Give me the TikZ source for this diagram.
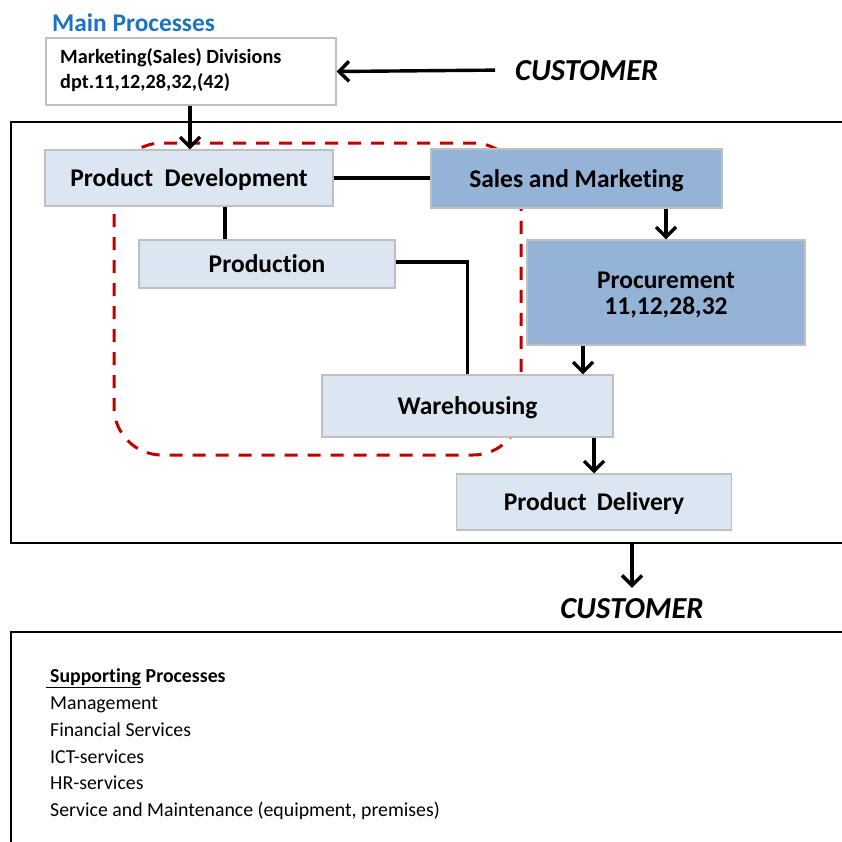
\documentclass[tikz,border=0pt]{standalone}
\usepackage{fontspec}
\setmainfont{Carlito}[Ligatures=NoCommon]
\usetikzlibrary{arrows.meta}
\definecolor{lightfill}{HTML}{DCE6F2}
\definecolor{darkfill}{HTML}{95B3D7}
\definecolor{boxline}{HTML}{BFBFBF}
\definecolor{dashred}{HTML}{C00000}
\definecolor{titleblue}{HTML}{1F72BE}
\begin{document}
\begin{tikzpicture}[x=1pt,y=-1pt,
  proc/.style={draw=boxline, line width=1.2pt, fill=lightfill, font=\fontsize{25.5}{27}\selectfont\bfseries, inner sep=0pt, text height=20pt, text depth=3pt},
  dproc/.style={proc, fill=darkfill},
  link/.style={line width=3.4pt, black},
  arr/.style={link, -{Straight Barb[length=10pt,width=20pt]}},
  frameline/.style={line width=2pt, black},
  supp/.style={anchor=base west, inner sep=0pt, font=\fontsize{19.8}{23}\selectfont},
  custtext/.style={inner sep=0pt, font=\fontsize{30.5}{32}\selectfont\bfseries\itshape},
]
\clip (0,0) rectangle (842,841);
% frames
\draw[frameline] (860,122) -- (11,122) -- (11,543) -- (860,543);
\draw[frameline] (860,632) -- (11,632) -- (11,860);
% red dashed group
\draw[dashred, line width=3pt, dash pattern=on 13pt off 10pt, rounded corners=48pt] (114,143) rectangle (521,455);
% title
\node[anchor=base west, inner sep=0pt, text=titleblue, font=\fontsize{25.4}{28}\selectfont\bfseries] (title) at (52,31.5) {Main Processes};
% marketing box
\node[draw=boxline, line width=1.2pt, fill=white, minimum width=290pt, minimum height=67pt, inner sep=0pt] (mkt) at (191,71.5) {};
\node[anchor=base west, inner sep=0pt, font=\fontsize{20.2}{25}\selectfont\bfseries] (mkt1) at (60,63.5) {Marketing(Sales) Divisions};
\node[anchor=base west, inner sep=0pt, font=\fontsize{20.2}{25}\selectfont\bfseries] (mkt2) at (60,88.5) {dpt.11,12,28,32,(42)};
% customers
\node[custtext, anchor=base west] (cust1) at (515,80) {CUSTOMER};
\node[custtext, anchor=base] (cust2) at (632,618) {CUSTOMER};
% process boxes
\node[proc, minimum width=288pt, minimum height=56pt] (pd) at (189,178) {Product\hspace{0.45em}Development};
\node[dproc, minimum width=291pt, minimum height=59pt] (sm) at (576.5,178.5) {Sales and Marketing};
\node[proc, minimum width=256pt, minimum height=48pt] (prod) at (267,264) {Production};
\node[dproc, minimum width=278pt, minimum height=105pt] (proc) at (666,292.5) {};
\node[inner sep=0pt, align=center, font=\fontsize{25.5}{27}\selectfont\bfseries] (proct) at ([yshift=-2.5pt]proc.center) {Procurement\\[-0.5pt]11,12,28,32};
\node[proc, minimum width=291pt, minimum height=62pt] (wh) at (467.5,406) {Warehousing};
\node[proc, minimum width=275pt, minimum height=56pt] (pdel) at (594,502) {Product\hspace{0.4em}Delivery};
% helper coordinates
\coordinate (c1) at (225,0);
\coordinate (c3) at (583,0);
\coordinate (fb) at (632,543);
% connectors
\draw[arr] ([xshift=-20pt]cust1.west) -- (mkt.east);
\draw[arr] (mkt.south -| pd.north) ++(1,0) coordinate (ms) (ms) -- (ms |- pd.north);
\draw[link] (pd.east) -- (sm.west |- pd.east);
\draw[link] (pd.south -| c1) -- (prod.north -| c1);
\draw[link] ([yshift=2pt]prod.east) -| (wh.north);
\draw[arr] (sm.south -| proc.north) -- (proc.north);
\draw[arr] (proc.south -| c3) -- (wh.north -| c3);
\draw[arr] (wh.south -| pdel.north) -- (pdel.north);
\draw[arr] (fb) -- ([yshift=10pt]cust2.north);
% supporting processes
\node[supp, font=\fontsize{19.8}{23}\selectfont\bfseries] (s0a) at (50,682) {Supporting};
\node[supp, font=\fontsize{19.8}{23}\selectfont\bfseries] (s0b) at (s0a.base east) {\ Processes};
\draw[line width=1.4pt] ([xshift=-4pt,yshift=-5.5pt]s0a.base west) -- ([yshift=-5.5pt]s0a.base east);
\node[supp] (s1) at (50,709) {Management};
\node[supp] (s2) at (50,736) {Financial Services};
\node[supp] (s3) at (50,763) {ICT-services};
\node[supp] (s4) at (50,789.5) {HR-services};
\node[supp] (s5) at (50,816.5) {Service and Maintenance (equipment, premises)};
\end{tikzpicture}
\end{document}
